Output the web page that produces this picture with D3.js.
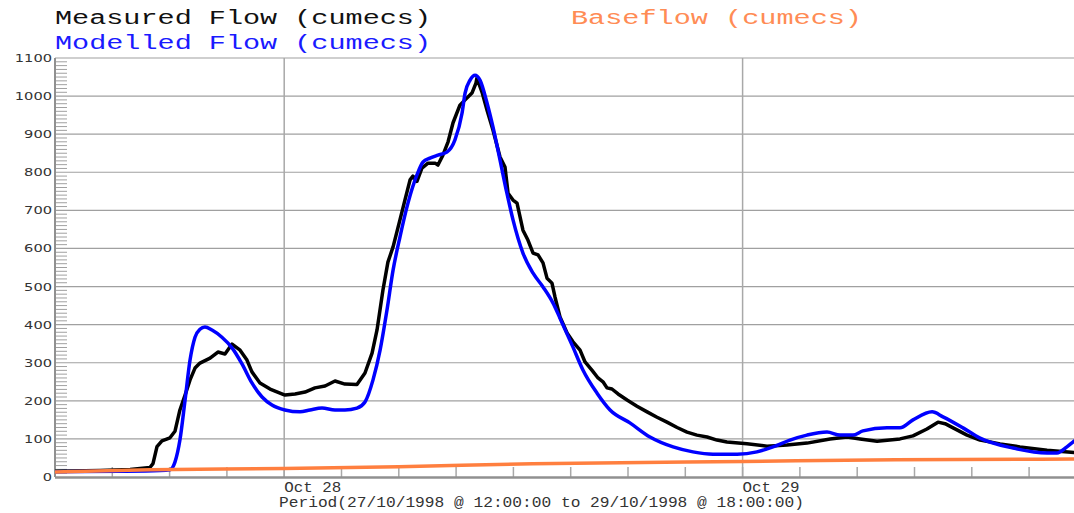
<!DOCTYPE html>
<html>
<head>
<meta charset="utf-8">
<script src="https://cdn.jsdelivr.net/npm/d3@7"></script>
<style>
  body { margin: 0; background: #fff; }
  svg { display: block; overflow: hidden; }
  .legend { font-family: "Liberation Mono", "Courier New", monospace; font-size: 20px; }
  .xlab { font-family: "Liberation Mono", "Courier New", monospace; font-size: 14px; fill: #333; }
  .ylab { font-family: "DejaVu Sans", Verdana, sans-serif; font-size: 10px; fill: #333; }
</style>
</head>
<body>
<div id="chart"></div>
<script>
// hours after 27/10/1998 12:00
var measuredHours = [0, 2.36, 3.93, 4.97, 5.13, 5.34, 5.60, 6.02, 6.28, 6.54, 6.81, 7.07, 7.33, 7.59, 8.12, 8.53, 8.90, 9.27, 9.69, 10.05,
    10.31, 10.73, 11.26, 12.04, 12.57, 13.09, 13.61, 14.14, 14.66, 15.18, 15.81, 16.23, 16.60, 16.86, 17.17, 17.43, 17.70, 18.06, 18.32, 18.59,
    18.74, 18.95, 19.21, 19.53, 19.90, 20.05, 20.31, 20.58, 20.84, 21.20, 21.47, 21.83, 22.04, 22.09, 22.36, 22.62, 22.93, 23.30, 23.56, 23.72,
    23.98, 24.19, 24.50, 24.76, 25.03, 25.29, 25.55, 25.76, 26.02, 26.18, 26.44, 26.81, 27.12, 27.49, 27.75, 28.12, 28.43, 28.69, 28.90, 29.16,
    29.48, 29.95, 30.47, 31.00, 31.52, 32.04, 32.57, 33.09, 33.61, 34.14, 34.66, 35.18, 36.23, 37.28, 38.32, 39.37, 40.58, 41.47, 42.15, 43.04,
    44.24, 44.92, 45.65, 46.23, 46.60, 47.02, 47.75, 48.43, 49.48, 50.52, 51.94, 53.35, 54];
var measuredFlow = [15, 17, 20, 25, 35, 80, 95, 103, 120, 176, 215, 255, 286, 299, 312, 328, 323, 349, 333, 307,
    276, 247, 231, 215, 218, 223, 234, 239, 252, 244, 243, 273, 325, 386, 491, 564, 604, 675, 727, 780,
    790, 776, 811, 824, 824, 819, 845, 880, 930, 976, 990, 1008, 1034, 1047, 1010, 963, 911, 840, 814, 745,
    727, 719, 648, 622, 588, 583, 562, 522, 509, 472, 420, 378, 355, 333, 302, 280, 260, 250, 234, 231,
    218, 202, 186, 171, 157, 144, 130, 118, 110, 105, 97, 92, 87, 81, 84, 89, 100, 105, 100, 94,
    100, 108, 126, 144, 140, 129, 110, 97, 87, 79, 70, 64, 63];

var modelledHours = [0, 3.40, 5.50, 6.02, 6.28, 6.54, 6.81, 7.07, 7.33, 7.59, 7.85, 8.22, 8.74, 9.27, 9.79, 10.31, 10.84, 11.36, 12.04, 12.83,
    13.35, 13.98, 14.66, 15.18, 15.81, 16.23, 16.65, 17.02, 17.38, 17.70, 18.06, 18.48, 18.95, 19.27, 19.63, 20.05, 20.52, 20.94, 21.31, 21.47,
    21.73, 21.99, 22.25, 22.62, 22.93, 23.30, 23.66, 23.98, 24.50, 25.03, 25.55, 26.07, 26.44, 27.12, 27.64, 28.38, 29.06, 30.10, 31.15, 32.36,
    33.40, 34.45, 35.71, 36.75, 37.59, 38.48, 39.37, 40.42, 41.10, 41.78, 42.30, 43.56, 44.24, 44.92, 45.92, 46.49, 47.54, 48.43, 50.16, 51.94,
    52.46, 52.98, 53.35, 54];
var modelledFlow = [14, 15, 17, 19, 39, 97, 202, 307, 367, 388, 394, 386, 367, 339, 297, 247, 210, 189, 176, 171,
    176, 181, 176, 176, 181, 197, 255, 333, 438, 543, 630, 719, 793, 827, 837, 845, 853, 885, 955, 1008,
    1042, 1055, 1042, 982, 919, 832, 745, 675, 588, 535, 499, 457, 417, 341, 281, 220, 176, 142, 105, 79,
    66, 60, 60, 66, 79, 97, 110, 118, 110, 110, 121, 129, 129, 150, 171, 158, 129, 102, 76, 63,
    63, 79, 94, 115];

var baseHours = [0, 5, 12, 18, 25, 36, 44, 53.4, 54];
var baseFlow = [13, 19, 22, 27, 35, 41, 45, 47, 47];

var yTicks = [0, 100, 200, 300, 400, 500, 600, 700, 800, 900, 1000, 1100];
var legendItems = ['Measured Flow (cumecs)', 'Modelled Flow (cumecs)', 'Baseflow (cumecs)'];
var periodLabel = 'Period(27/10/1998 @ 12:00:00 to 29/10/1998 @ 18:00:00)';

var width = 1074,
    height = 513,
    margin = { left: 55, top: 58, bottom: 36 };

var startTime = new Date(1998, 9, 27, 12, 0, 0),
    endTime = new Date(1998, 9, 29, 18, 0, 0);
var toDate = function (h) { return new Date(startTime.getTime() + h * 3600000); };

var xScale = d3.scaleTime().domain([startTime, endTime]).range([margin.left, margin.left + 54 * 19.1]);
var yScale = d3.scaleLinear().domain([0, 1100]).range([height - margin.bottom, margin.top]);

var svg = d3.select('#chart').append('svg')
    .attr('width', width)
    .attr('height', height);

var x0 = margin.left,
    x1 = xScale.range()[1],
    yBottom = yScale(0);

// horizontal grid lines
svg.append('g').selectAll('line')
    .data(yTicks.filter(function (d) { return d > 0; }))
    .enter().append('line')
    .attr('x1', x0).attr('x2', x1)
    .attr('y1', function (d) { return yScale(d); })
    .attr('y2', function (d) { return yScale(d); })
    .attr('stroke', '#a0a0a0').attr('stroke-width', 1.2);

// y minor ticks every 10
svg.append('g').selectAll('line')
    .data(d3.range(10, 1100, 10).filter(function (d) { return d % 100 != 0; }))
    .enter().append('line')
    .attr('x1', x0).attr('x2', x0 + 12)
    .attr('y1', function (d) { return yScale(d); })
    .attr('y2', function (d) { return yScale(d); })
    .attr('stroke', '#a0a0a0').attr('stroke-width', 1);

// vertical grid lines at midnight
svg.append('g').selectAll('line')
    .data(xScale.ticks(d3.timeDay.every(1)).filter(function (d) { return xScale(d) > x0 + 1; }))
    .enter().append('line')
    .attr('x1', function (d) { return xScale(d); })
    .attr('x2', function (d) { return xScale(d); })
    .attr('y1', yScale(1100)).attr('y2', yBottom)
    .attr('stroke', '#a8a8a8').attr('stroke-width', 1.5);

// x minor ticks every 3 hours
svg.append('g').selectAll('line')
    .data(xScale.ticks(d3.timeHour.every(3)).filter(function (d) { return xScale(d) > x0 + 1; }))
    .enter().append('line')
    .attr('x1', function (d) { return xScale(d); })
    .attr('x2', function (d) { return xScale(d); })
    .attr('y1', yBottom - 10).attr('y2', yBottom)
    .attr('stroke', '#a8a8a8').attr('stroke-width', 1.5);

// axis lines
svg.append('line')
    .attr('x1', x0).attr('x2', x0)
    .attr('y1', yScale(1100)).attr('y2', yBottom)
    .attr('stroke', '#909090').attr('stroke-width', 2);
svg.append('line')
    .attr('x1', x0).attr('x2', x1)
    .attr('y1', yBottom + 0.5).attr('y2', yBottom + 0.5)
    .attr('stroke', '#909090').attr('stroke-width', 2.5);

// y labels
svg.append('g').selectAll('text')
    .data(yTicks)
    .enter().append('text')
    .attr('class', 'ylab')
    .attr('x', x0 - 3)
    .attr('y', function (d) { return yScale(d) + 4; })
    .attr('text-anchor', 'end')
    .attr('textLength', function (d) { return String(d).length * 9.3; })
    .attr('lengthAdjust', 'spacingAndGlyphs')
    .text(function (d) { return d; });

// x labels
svg.append('g').selectAll('text')
    .data(xScale.ticks(d3.timeDay.every(1)).filter(function (d) { return xScale(d) > x0 + 1; }))
    .enter().append('text')
    .attr('class', 'xlab')
    .attr('x', function (d) { return xScale(d); })
    .attr('y', yBottom + 15)
    .attr('textLength', 57)
    .attr('lengthAdjust', 'spacingAndGlyphs')
    .text(d3.timeFormat('%b %d'));

svg.append('text')
    .attr('class', 'xlab')
    .attr('x', 279)
    .attr('y', yBottom + 30)
    .attr('textLength', 525)
    .attr('lengthAdjust', 'spacingAndGlyphs')
    .text(periodLabel);

// lines
var line = d3.line()
    .x(function (d) { return xScale(toDate(d[0])); })
    .y(function (d) { return yScale(d[1]); });

var series = [
    { hours: measuredHours, values: measuredFlow, color: '#000000', width: 3.5, curve: d3.curveLinear },
    { hours: modelledHours, values: modelledFlow, color: '#0000ff', width: 3.5, curve: d3.curveMonotoneX },
    { hours: baseHours, values: baseFlow, color: '#ff7f3f', width: 3.5, curve: d3.curveMonotoneX }
];

svg.append('g').selectAll('path')
    .data(series)
    .enter().append('path')
    .attr('fill', 'none')
    .attr('stroke', function (d) { return d.color; })
    .attr('stroke-width', function (d) { return d.width; })
    .attr('stroke-linejoin', 'round')
    .attr('d', function (d) {
        return line.curve(d.curve)(d.hours.map(function (h, i) { return [h, d.values[i]]; }));
    });

// legend
var legendPos = [
    { x: 55, y: 24, color: '#111111', len: 376 },
    { x: 55, y: 49, color: '#1a1aff', len: 376 },
    { x: 571, y: 24, color: '#ff8c55', len: 291 }
];
svg.append('g').selectAll('text')
    .data(legendItems)
    .enter().append('text')
    .attr('class', 'legend')
    .attr('x', function (d, i) { return legendPos[i].x; })
    .attr('y', function (d, i) { return legendPos[i].y; })
    .attr('fill', function (d, i) { return legendPos[i].color; })
    .attr('textLength', function (d, i) { return legendPos[i].len; })
    .attr('lengthAdjust', 'spacingAndGlyphs')
    .text(function (d) { return d; });
</script>
</body>
</html>
